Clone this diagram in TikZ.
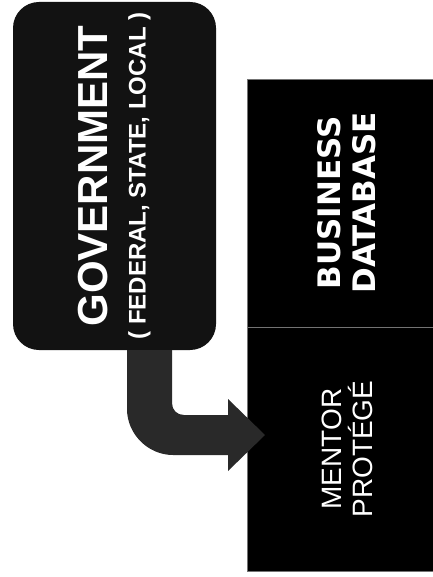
\documentclass[tikz,border=0pt]{standalone}
\usepackage{fontspec}
\setmainfont{Liberation Sans}
\newfontfamily\heavyfont{DejaVu Sans}
\usetikzlibrary{calc}

\begin{document}
\begin{tikzpicture}[
  x=1pt, y=-1pt,
  govbox/.style={rotate=90, fill=black!93, rounded corners=26pt,
                 minimum width=348pt, minimum height=203pt, inner sep=0pt,
                 align=center, text=white},
  cell/.style={rotate=90, fill=black, draw=black!55, line width=0.6pt,
               minimum height=200pt, inner sep=0pt, align=center, text=white},
  govarrow/.style={fill=black!84},
]
\useasboundingbox (0,0) rectangle (432,577);

% ---- government box (text runs bottom to top) ----
\node[govbox, font=\bfseries\fontsize{24}{38}\selectfont] (gov) at (114.5,176)
  {{\fontsize{42}{38}\selectfont GOVERNMENT}\\( FEDERAL, STATE, LOCAL )};

% ---- the two cells of the right block ----
\node[cell, minimum width=248pt, font=\heavyfont\bfseries\fontsize{31}{35}\selectfont]
  (biz) at (347,203) {BUSINESS\\DATABASE};
\node[cell, minimum width=244pt, font=\fontsize{28}{31}\selectfont]
  (mentor) at (347,449) {MENTOR\\PROTÉGÉ};

% ---- bent arrow from government into mentor protege ----
\coordinate (tip) at (265,435);
\fill[govarrow] (127,0 |- gov.west) -- (127,409)
  .. controls (127,434) and (148,455) .. (173,455)
  -- (228,455) -- (228,471) -- (tip) -- (228,399) -- (228,415) -- (184,415)
  .. controls (177,415) and (172,410) .. (172,403)
  -- (172,0 |- gov.west) -- cycle;
\end{tikzpicture}
\end{document}
